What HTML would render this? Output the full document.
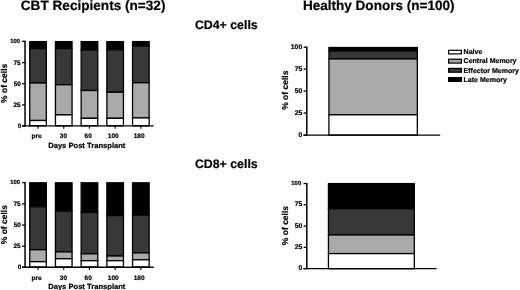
<!DOCTYPE html>
<html><head><meta charset="utf-8"><style>
html,body{margin:0;padding:0;background:#fff;}
body{width:520px;height:290px;overflow:hidden;}
svg{display:block;filter:grayscale(1);}
text{font-family:'Liberation Sans',sans-serif;font-weight:bold;fill:#000;stroke:#000;stroke-width:0.2px;text-rendering:geometricPrecision;}
</style></head><body>
<svg width="520" height="290" viewBox="0 0 520 290">
<rect width="520" height="290" fill="#fff"/>
<text x="20.8" y="9.5" font-size="13.6">CBT Recipients (n=32)</text>
<text x="302.9" y="9.5" font-size="13.55">Healthy Donors (n=100)</text>
<text x="194.9" y="29.2" font-size="12.35">CD4+ cells</text>
<text x="194.9" y="168.4" font-size="12.35">CD8+ cells</text>
<line x1="25.05" y1="40.699999999999996" x2="25.05" y2="126.6" stroke="#000" stroke-width="1.5"/>
<line x1="22.05" y1="41.3" x2="25.05" y2="41.3" stroke="#000" stroke-width="1.3"/>
<text x="20.1" y="43.02" text-anchor="end" font-size="5.9">100</text>
<line x1="22.05" y1="62.6" x2="25.05" y2="62.6" stroke="#000" stroke-width="1.3"/>
<text x="20.6" y="64.50" text-anchor="end" font-size="6.4">75</text>
<line x1="22.05" y1="83.75" x2="25.05" y2="83.75" stroke="#000" stroke-width="1.3"/>
<text x="20.8" y="85.65" text-anchor="end" font-size="6.4">50</text>
<line x1="22.05" y1="104.9" x2="25.05" y2="104.9" stroke="#000" stroke-width="1.3"/>
<text x="20.6" y="106.80" text-anchor="end" font-size="6.4">25</text>
<line x1="22.05" y1="126.0" x2="25.05" y2="126.0" stroke="#000" stroke-width="1.3"/>
<text x="21.3" y="127.90" text-anchor="end" font-size="6.4">0</text>
<text x="0" y="0" transform="translate(6.7,83.35) rotate(-90)" text-anchor="middle" font-size="8.5">% of cells</text>
<rect x="29.75" y="41.60" width="16.60" height="7.00" fill="#000000" stroke="#000" stroke-width="1.3"/>
<rect x="29.75" y="48.60" width="16.60" height="34.40" fill="#383838" stroke="#000" stroke-width="1.3"/>
<rect x="29.75" y="83.00" width="16.60" height="37.50" fill="#aaaaaa" stroke="#000" stroke-width="1.3"/>
<rect x="29.75" y="120.50" width="16.60" height="5.30" fill="#ffffff" stroke="#000" stroke-width="1.3"/>
<rect x="55.45" y="41.60" width="16.60" height="7.00" fill="#000000" stroke="#000" stroke-width="1.3"/>
<rect x="55.45" y="48.60" width="16.60" height="36.15" fill="#383838" stroke="#000" stroke-width="1.3"/>
<rect x="55.45" y="84.75" width="16.60" height="30.15" fill="#aaaaaa" stroke="#000" stroke-width="1.3"/>
<rect x="55.45" y="114.90" width="16.60" height="10.90" fill="#ffffff" stroke="#000" stroke-width="1.3"/>
<rect x="81.15" y="41.60" width="16.60" height="8.40" fill="#000000" stroke="#000" stroke-width="1.3"/>
<rect x="81.15" y="50.00" width="16.60" height="40.50" fill="#383838" stroke="#000" stroke-width="1.3"/>
<rect x="81.15" y="90.50" width="16.60" height="27.80" fill="#aaaaaa" stroke="#000" stroke-width="1.3"/>
<rect x="81.15" y="118.30" width="16.60" height="7.50" fill="#ffffff" stroke="#000" stroke-width="1.3"/>
<rect x="106.85" y="41.60" width="16.60" height="8.20" fill="#000000" stroke="#000" stroke-width="1.3"/>
<rect x="106.85" y="49.80" width="16.60" height="42.45" fill="#383838" stroke="#000" stroke-width="1.3"/>
<rect x="106.85" y="92.25" width="16.60" height="26.05" fill="#aaaaaa" stroke="#000" stroke-width="1.3"/>
<rect x="106.85" y="118.30" width="16.60" height="7.50" fill="#ffffff" stroke="#000" stroke-width="1.3"/>
<rect x="132.55" y="41.60" width="16.60" height="4.40" fill="#000000" stroke="#000" stroke-width="1.3"/>
<rect x="132.55" y="46.00" width="16.60" height="36.75" fill="#383838" stroke="#000" stroke-width="1.3"/>
<rect x="132.55" y="82.75" width="16.60" height="35.15" fill="#aaaaaa" stroke="#000" stroke-width="1.3"/>
<rect x="132.55" y="117.90" width="16.60" height="7.90" fill="#ffffff" stroke="#000" stroke-width="1.3"/>
<line x1="22.1" y1="125.9" x2="153.7" y2="125.9" stroke="#000" stroke-width="1.4"/>
<line x1="38.05" y1="126" x2="38.05" y2="128.8" stroke="#000" stroke-width="1.1"/>
<text x="36.60" y="138.2" text-anchor="middle" font-size="6.5">pre</text>
<line x1="63.75" y1="126" x2="63.75" y2="128.8" stroke="#000" stroke-width="1.1"/>
<text x="63.40" y="138.2" text-anchor="middle" font-size="6.5">30</text>
<line x1="89.45" y1="126" x2="89.45" y2="128.8" stroke="#000" stroke-width="1.1"/>
<text x="88.20" y="138.2" text-anchor="middle" font-size="6.5">60</text>
<line x1="115.15" y1="126" x2="115.15" y2="128.8" stroke="#000" stroke-width="1.1"/>
<text x="113.20" y="138.2" text-anchor="middle" font-size="6.5">100</text>
<line x1="140.85" y1="126" x2="140.85" y2="128.8" stroke="#000" stroke-width="1.1"/>
<text x="139.10" y="138.2" text-anchor="middle" font-size="6.5">180</text>
<text x="86.8" y="147.8" text-anchor="middle" font-size="7.6">Days Post Transplant</text>
<line x1="25.05" y1="182.00000000000003" x2="25.05" y2="267.90000000000003" stroke="#000" stroke-width="1.5"/>
<line x1="22.05" y1="182.60000000000002" x2="25.05" y2="182.60000000000002" stroke="#000" stroke-width="1.3"/>
<text x="20.1" y="184.32" text-anchor="end" font-size="5.9">100</text>
<line x1="22.05" y1="203.9" x2="25.05" y2="203.9" stroke="#000" stroke-width="1.3"/>
<text x="20.6" y="205.80" text-anchor="end" font-size="6.4">75</text>
<line x1="22.05" y1="225.05" x2="25.05" y2="225.05" stroke="#000" stroke-width="1.3"/>
<text x="20.8" y="226.95" text-anchor="end" font-size="6.4">50</text>
<line x1="22.05" y1="246.20000000000002" x2="25.05" y2="246.20000000000002" stroke="#000" stroke-width="1.3"/>
<text x="20.6" y="248.10" text-anchor="end" font-size="6.4">25</text>
<line x1="22.05" y1="267.3" x2="25.05" y2="267.3" stroke="#000" stroke-width="1.3"/>
<text x="21.3" y="269.20" text-anchor="end" font-size="6.4">0</text>
<text x="0" y="0" transform="translate(6.7,224.65) rotate(-90)" text-anchor="middle" font-size="8.5">% of cells</text>
<rect x="29.75" y="182.80" width="16.60" height="23.95" fill="#000000" stroke="#000" stroke-width="1.3"/>
<rect x="29.75" y="206.75" width="16.60" height="42.95" fill="#383838" stroke="#000" stroke-width="1.3"/>
<rect x="29.75" y="249.70" width="16.60" height="12.00" fill="#aaaaaa" stroke="#000" stroke-width="1.3"/>
<rect x="29.75" y="261.70" width="16.60" height="5.30" fill="#ffffff" stroke="#000" stroke-width="1.3"/>
<rect x="55.45" y="182.80" width="16.60" height="28.20" fill="#000000" stroke="#000" stroke-width="1.3"/>
<rect x="55.45" y="211.00" width="16.60" height="40.90" fill="#383838" stroke="#000" stroke-width="1.3"/>
<rect x="55.45" y="251.90" width="16.60" height="6.90" fill="#aaaaaa" stroke="#000" stroke-width="1.3"/>
<rect x="55.45" y="258.80" width="16.60" height="8.20" fill="#ffffff" stroke="#000" stroke-width="1.3"/>
<rect x="81.15" y="182.80" width="16.60" height="29.70" fill="#000000" stroke="#000" stroke-width="1.3"/>
<rect x="81.15" y="212.50" width="16.60" height="41.30" fill="#383838" stroke="#000" stroke-width="1.3"/>
<rect x="81.15" y="253.80" width="16.60" height="6.90" fill="#aaaaaa" stroke="#000" stroke-width="1.3"/>
<rect x="81.15" y="260.70" width="16.60" height="6.30" fill="#ffffff" stroke="#000" stroke-width="1.3"/>
<rect x="106.85" y="182.80" width="16.60" height="32.70" fill="#000000" stroke="#000" stroke-width="1.3"/>
<rect x="106.85" y="215.50" width="16.60" height="40.50" fill="#383838" stroke="#000" stroke-width="1.3"/>
<rect x="106.85" y="256.00" width="16.60" height="4.70" fill="#aaaaaa" stroke="#000" stroke-width="1.3"/>
<rect x="106.85" y="260.70" width="16.60" height="6.30" fill="#ffffff" stroke="#000" stroke-width="1.3"/>
<rect x="132.55" y="182.80" width="16.60" height="32.20" fill="#000000" stroke="#000" stroke-width="1.3"/>
<rect x="132.55" y="215.00" width="16.60" height="37.90" fill="#383838" stroke="#000" stroke-width="1.3"/>
<rect x="132.55" y="252.90" width="16.60" height="6.90" fill="#aaaaaa" stroke="#000" stroke-width="1.3"/>
<rect x="132.55" y="259.80" width="16.60" height="7.20" fill="#ffffff" stroke="#000" stroke-width="1.3"/>
<line x1="22.1" y1="267.20000000000005" x2="153.7" y2="267.20000000000005" stroke="#000" stroke-width="1.4"/>
<line x1="38.05" y1="267.3" x2="38.05" y2="270.1" stroke="#000" stroke-width="1.1"/>
<text x="36.60" y="279.5" text-anchor="middle" font-size="6.5">pre</text>
<line x1="63.75" y1="267.3" x2="63.75" y2="270.1" stroke="#000" stroke-width="1.1"/>
<text x="63.40" y="279.5" text-anchor="middle" font-size="6.5">30</text>
<line x1="89.45" y1="267.3" x2="89.45" y2="270.1" stroke="#000" stroke-width="1.1"/>
<text x="88.20" y="279.5" text-anchor="middle" font-size="6.5">60</text>
<line x1="115.15" y1="267.3" x2="115.15" y2="270.1" stroke="#000" stroke-width="1.1"/>
<text x="113.20" y="279.5" text-anchor="middle" font-size="6.5">100</text>
<line x1="140.85" y1="267.3" x2="140.85" y2="270.1" stroke="#000" stroke-width="1.1"/>
<text x="139.10" y="279.5" text-anchor="middle" font-size="6.5">180</text>
<text x="86.8" y="289.1" text-anchor="middle" font-size="7.6">Days Post Transplant</text>
<line x1="306.8" y1="46.6" x2="306.8" y2="135.7" stroke="#000" stroke-width="1.5"/>
<line x1="303.6" y1="47.2" x2="306.8" y2="47.2" stroke="#000" stroke-width="1.3"/>
<text x="302.2" y="48.75" text-anchor="end" font-size="6.8">100</text>
<line x1="303.6" y1="69.15" x2="306.8" y2="69.15" stroke="#000" stroke-width="1.3"/>
<text x="302.2" y="70.70" text-anchor="end" font-size="6.8">75</text>
<line x1="303.6" y1="91.1" x2="306.8" y2="91.1" stroke="#000" stroke-width="1.3"/>
<text x="302.2" y="92.65" text-anchor="end" font-size="6.8">50</text>
<line x1="303.6" y1="113.05" x2="306.8" y2="113.05" stroke="#000" stroke-width="1.3"/>
<text x="302.2" y="114.60" text-anchor="end" font-size="6.8">25</text>
<line x1="303.6" y1="135.1" x2="306.8" y2="135.1" stroke="#000" stroke-width="1.3"/>
<text x="302.2" y="136.65" text-anchor="end" font-size="6.8">0</text>
<text x="0" y="0" transform="translate(287.7,90.2) rotate(-90)" text-anchor="middle" font-size="8.5">% of cells</text>
<rect x="328.95" y="47.50" width="88.40" height="3.45" fill="#000000" stroke="#000" stroke-width="1.3"/>
<rect x="328.95" y="50.95" width="88.40" height="8.00" fill="#383838" stroke="#000" stroke-width="1.3"/>
<rect x="328.95" y="58.95" width="88.40" height="55.85" fill="#aaaaaa" stroke="#000" stroke-width="1.3"/>
<rect x="328.95" y="114.80" width="88.40" height="20.30" fill="#ffffff" stroke="#000" stroke-width="1.3"/>
<line x1="303.4" y1="135.1" x2="440.2" y2="135.1" stroke="#000" stroke-width="1.4"/>
<line x1="306.8" y1="182.9" x2="306.8" y2="269.20000000000005" stroke="#000" stroke-width="1.5"/>
<line x1="303.6" y1="183.5" x2="306.8" y2="183.5" stroke="#000" stroke-width="1.3"/>
<text x="301.2" y="184.72" text-anchor="end" font-size="5.9">100</text>
<line x1="303.6" y1="204.8" x2="306.8" y2="204.8" stroke="#000" stroke-width="1.3"/>
<text x="302.2" y="206.35" text-anchor="end" font-size="6.8">75</text>
<line x1="303.6" y1="226.1" x2="306.8" y2="226.1" stroke="#000" stroke-width="1.3"/>
<text x="302.2" y="227.65" text-anchor="end" font-size="6.8">50</text>
<line x1="303.6" y1="247.4" x2="306.8" y2="247.4" stroke="#000" stroke-width="1.3"/>
<text x="302.2" y="248.95" text-anchor="end" font-size="6.8">25</text>
<line x1="303.6" y1="268.6" x2="306.8" y2="268.6" stroke="#000" stroke-width="1.3"/>
<text x="302.2" y="270.15" text-anchor="end" font-size="6.8">0</text>
<text x="0" y="0" transform="translate(287.7,225.55) rotate(-90)" text-anchor="middle" font-size="8.5">% of cells</text>
<rect x="328.45" y="183.60" width="85.90" height="25.10" fill="#000000" stroke="#000" stroke-width="1.3"/>
<rect x="328.45" y="208.70" width="85.90" height="26.30" fill="#383838" stroke="#000" stroke-width="1.3"/>
<rect x="328.45" y="235.00" width="85.90" height="18.60" fill="#aaaaaa" stroke="#000" stroke-width="1.3"/>
<rect x="328.45" y="253.60" width="85.90" height="15.10" fill="#ffffff" stroke="#000" stroke-width="1.3"/>
<line x1="303.4" y1="268.6" x2="436.6" y2="268.6" stroke="#000" stroke-width="1.4"/>
<rect x="448.6" y="50.300000000000004" width="12.8" height="3.60" fill="#ffffff" stroke="#000" stroke-width="1.2"/>
<text x="463.6" y="54.20" font-size="7">Naive</text>
<rect x="448.6" y="59.2" width="12.8" height="3.90" fill="#aaaaaa" stroke="#000" stroke-width="1.2"/>
<text x="463.6" y="63.40" font-size="7">Central Memory</text>
<rect x="448.6" y="68.39999999999999" width="12.8" height="3.80" fill="#383838" stroke="#000" stroke-width="1.2"/>
<text x="463.6" y="72.50" font-size="7">Effector Memory</text>
<rect x="448.6" y="77.6" width="12.8" height="3.80" fill="#000000" stroke="#000" stroke-width="1.2"/>
<text x="463.6" y="81.70" font-size="7">Late Memory</text>
</svg>
</body></html>
